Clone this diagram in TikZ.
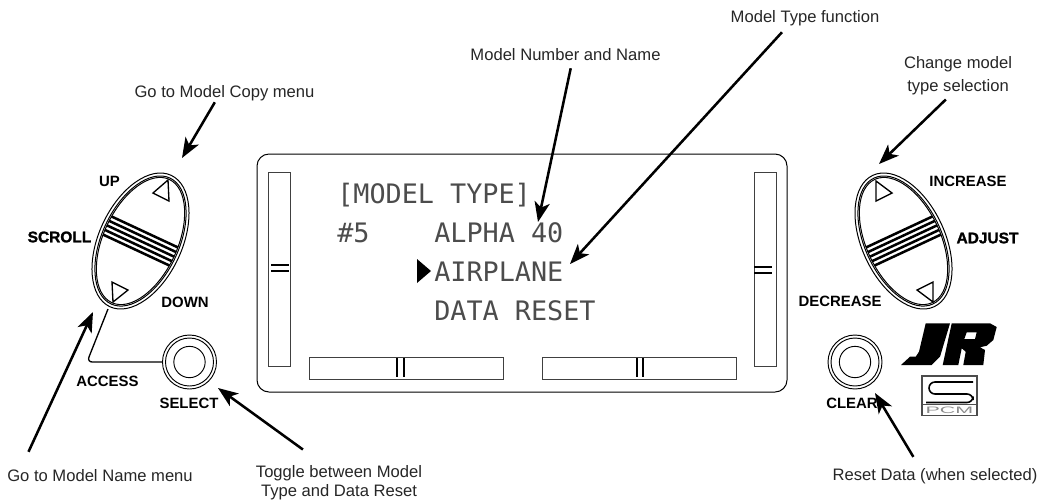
\documentclass[tikz,border=0pt]{standalone}
\usepackage{fontspec}
\setmainfont{Liberation Sans}
\newfontfamily\lcdfont{DejaVu Sans Mono}
\newfontfamily\heavyfont[FakeBold=1.5]{Liberation Sans Bold}
\usetikzlibrary{arrows.meta,shapes.geometric}
\tikzset{
    note/.style={inner xsep=1.5pt,inner ysep=1.5pt,align=center,text=black!85,font=\fontsize{12.45}{17.2}\selectfont},
    oneline/.style={note,inner ysep=3pt,text height=9pt,text depth=3pt},
    keylabel/.style={inner sep=0pt,font=\bfseries\fontsize{11.2}{13}\selectfont},
    heavylabel/.style={inner sep=0pt,font=\heavyfont\fontsize{11.6}{13}\selectfont},
    lcd/.style={anchor=base west,inner sep=0pt,text=black!70,font=\lcdfont\fontsize{20.1}{24}\selectfont},
    callout/.style={line width=1.9pt,-{Stealth[length=15pt,width=11.5pt,inset=4pt]}},
    outline/.style={line width=0.75pt},
    bar/.style={draw,line width=0.75pt,black!75},
    tick/.style={line width=1.5pt},
    ring/.style={circle,draw,line width=0.7pt,inner sep=0pt},
}
\begin{document}
\begin{tikzpicture}[x=0.75pt,y=-0.75pt]
    \useasboundingbox (0,0) rectangle (1048,501);

    % display
    \draw[outline,rounded corners=9pt] (257,154) rectangle (787,392);
    \draw[bar] (268,172) rectangle (290,366);
    \draw[bar] (754,172) rectangle (776,366);
    \draw[bar] (309,357) rectangle (503,379);
    \draw[bar] (542,357) rectangle (736,379);
    \draw[tick] (271,265) -- (289,265) (271,271) -- (289,271);
    \draw[tick] (754,267) -- (772,267) (754,273) -- (772,273);
    \draw[tick] (397,358) -- (397,377) (404,358) -- (404,377);
    \draw[tick] (637,358) -- (637,377) (643,358) -- (643,377);

    \node[lcd] (title) at (337,203) {[MODEL TYPE]};
    \node[lcd] (number) at (337,242) {\#5};
    \node[lcd] (name) at (434,242) {ALPHA 40};
    \node[lcd] (airplane) at (434,281) {AIRPLANE};
    \node[lcd] (reset) at (434,320) {DATA RESET};
    \fill (417,259) -- (431,271) -- (417,283) -- cycle;

    % rockers
    \foreach \cx/\tilt in {140.5/-25,903.5/25} {
        \begin{scope}[shift={(\cx,241)},rotate=\tilt]
            \draw[outline] (0,0) ellipse [x radius=41.5,y radius=72.5];
            \draw[outline] (0,0) ellipse [x radius=38.5,y radius=69.5];
            \draw[outline] (0,0) ellipse [x radius=37,y radius=68];
            \clip (0,0) ellipse [x radius=37,y radius=68];
            \foreach \dy in {-10,-5,0,5,10}
                \draw[line width=1.9pt] (-40,\dy) -- (40,\dy);
        \end{scope}
    }
    \draw[line width=1pt,line join=miter] (168,180) -- (169,201) -- (153,193) -- cycle;
    \draw[line width=1pt,line join=miter] (112,282) -- (113,302) -- (128,290) -- cycle;
    \draw[line width=1pt,line join=miter] (876,181) -- (876,201) -- (892,193) -- cycle;
    \draw[line width=1pt,line join=miter] (933,282) -- (933,302) -- (917,290) -- cycle;

    % buttons
    \node[ring,minimum size=40.5pt] (select) at (189.5,362) {};
    \node[ring,minimum size=36pt] at (select) {};
    \node[ring,minimum size=23.5pt] at (select) {};
    \node[ring,minimum size=40.5pt] (clear) at (855,362) {};
    \node[ring,minimum size=36pt] at (clear) {};
    \node[ring,minimum size=23.5pt] at (clear) {};
    \coordinate (rockerfoot) at (108,309);
    \draw[line width=1pt,rounded corners=4pt] (rockerfoot) -- (87,362) -- (select.west);

    % key names
    \node[keylabel] (up) at (109.5,181) {UP};
    \node[heavylabel] (scroll) at (59.5,237) {SCROLL};
    \node[keylabel] (down) at (185,302) {DOWN};
    \node[keylabel] (access) at (107.5,381) {ACCESS};
    \node[keylabel] (selectname) at (189,403) {SELECT};
    \node[keylabel] (increase) at (968,181) {INCREASE};
    \node[heavylabel] (adjust) at (987.5,238) {ADJUST};
    \node[keylabel] (decrease) at (840,301) {DECREASE};
    \node[keylabel] (clearname) at (852,403) {CLEAR};

    % logo
    \fill (925.7,323.3) -- (950,323.3) -- (940,356.7) -- (931.7,365) -- (901,365)
        -- (910,356.7) -- (915.7,356.7) -- (919,351.7) -- cycle;
    \fill[even odd rule] (951.7,323.3) -- (990,323.3) -- (996.7,327) -- (993.3,340)
        -- (986.7,345.7) -- (980,347.3) -- (985,350) -- (983.3,365) -- (963.3,365)
        -- (965.7,351.7) -- (961.7,348.3) -- (958.3,365) -- (942.7,365) -- cycle
        (966.7,332.3) -- (976.7,332.3) -- (975,339) -- (964.3,339) -- cycle;
    \draw[line width=1.2pt,black!70] (922,376) rectangle (977,415.5);
    \draw[line width=0.8pt,black!70] (922,404.5) -- (977,404.5);
    \draw[line width=1.2pt,rounded corners=4.5pt] (973,382) -- (929,382) -- (929,394) -- (973,394) -- (973,402.5) -- (926,402.5);
    \node[inner sep=0pt,text=black!45,xscale=2.3,font=\fontsize{7}{8}\selectfont] (pcm) at (949.5,410) {PCM};

    % callouts
    \node[oneline] (copynote) at (224.5,93) {Go to Model Copy menu};
    \node[oneline] (numbernote) at (565.5,56) {Model Number and Name};
    \node[oneline] (typenote) at (805,18) {Model Type function};
    \node[note] (changenote) at (958,75.5) {Change model\\type selection};
    \node[oneline] (namenote) at (100,477) {Go to Model Name menu};
    \node[note,font=\fontsize{12.45}{14.5}\selectfont] (togglenote) at (339,482.5) {Toggle between Model\\Type and Data Reset};
    \node[oneline] (datanote) at (935,476) {Reset Data (when selected)};

    \coordinate (copytip) at (182,158);
    \coordinate (numbertip) at (538,222);
    \coordinate (typetip) at (570,264);
    \coordinate (changetip) at (879,164);
    \coordinate (nametip) at (93,312);
    \coordinate (toggletip) at (218,388);
    \coordinate (datatip) at (875,393);

    \draw[callout,shorten <=-2.6pt] (copynote.-133) -- (copytip);
    \draw[callout] (numbernote.-67) -- (numbertip);
    \draw[callout,shorten <=2pt] (typenote.-150.5) -- (typetip);
    \draw[callout,shorten <=2.7pt] (changenote.-114) -- (changetip);
    \draw[callout,shorten <=10.7pt] (namenote.171) -- (nametip);
    \draw[callout,shorten <=17pt] (togglenote.132.6) -- (toggletip);
    \draw[callout,shorten <=6pt] (datanote.145) -- (datatip);
\end{tikzpicture}
\end{document}
